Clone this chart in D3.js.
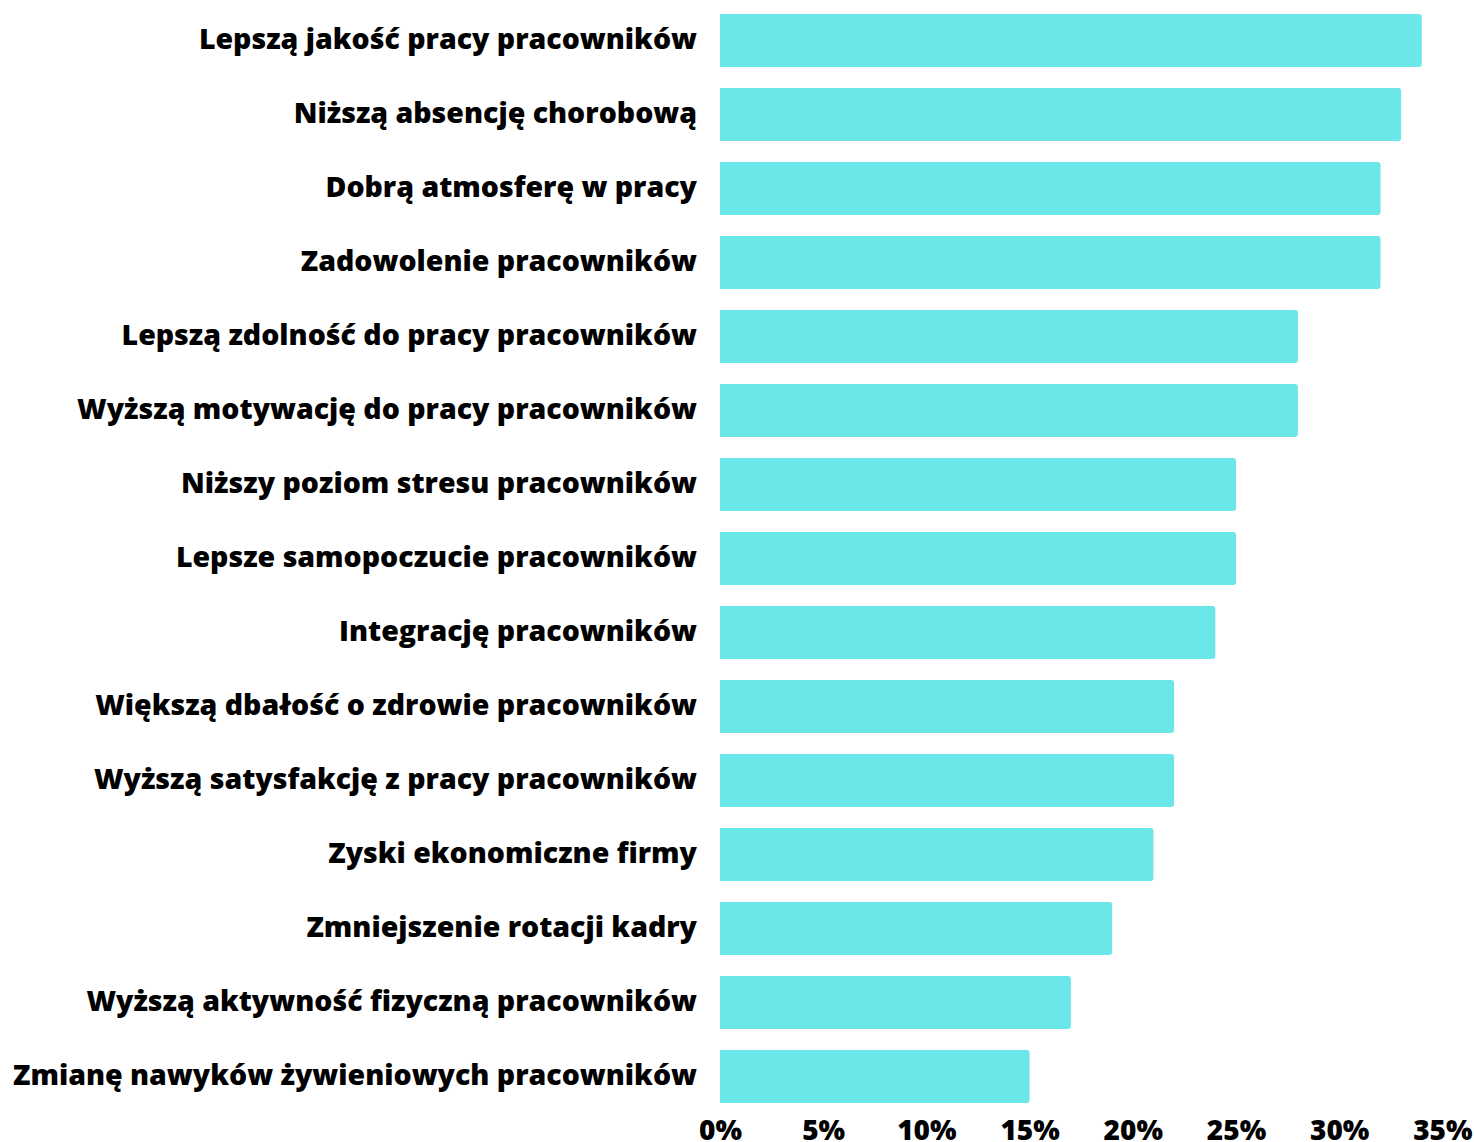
<!DOCTYPE html>
<html>
<head>
<meta charset="utf-8">
<script src="https://cdn.jsdelivr.net/npm/d3@7"></script>
<style>
  body { margin: 0; background: #fff; }
  svg { display: block; }
  text { font-family: "Open Sans", sans-serif; font-weight: 800; fill: #000; }
</style>
</head>
<body>
<svg width="1474" height="1142"></svg>
<script>
const categories = [
  "Lepszą jakość pracy pracowników",
  "Niższą absencję chorobową",
  "Dobrą atmosferę w pracy",
  "Zadowolenie pracowników",
  "Lepszą zdolność do pracy pracowników",
  "Wyższą motywację do pracy pracowników",
  "Niższy poziom stresu pracowników",
  "Lepsze samopoczucie pracowników",
  "Integrację pracowników",
  "Większą dbałość o zdrowie pracowników",
  "Wyższą satysfakcję z pracy pracowników",
  "Zyski ekonomiczne firmy",
  "Zmniejszenie rotacji kadry",
  "Wyższą aktywność fizyczną pracowników",
  "Zmianę nawyków żywieniowych pracowników"
];
const values = [34, 33, 32, 32, 28, 28, 25, 25, 24, 22, 22, 21, 19, 17, 15];
const ticks = [0, 5, 10, 15, 20, 25, 30, 35];

const svg = d3.select("svg");

const x = d3.scaleLinear().domain([0, 35]).range([720, 1442.4]);
const y = d3.scaleBand().domain(categories).range([3.5, 1113.5]).paddingInner(0.284).paddingOuter(0.142);

// bars with slightly rounded right end
const r = 3;
svg.selectAll(".bar")
  .data(categories)
  .join("path")
  .attr("class", "bar")
  .attr("fill", "#6be6e9")
  .attr("d", (d, i) => {
    const x0 = x(0), x1 = x(values[i]), y0 = y(d), h = y.bandwidth();
    return `M${x0},${y0}H${x1 - r}Q${x1},${y0} ${x1},${y0 + r}V${y0 + h - r}Q${x1},${y0 + h} ${x1 - r},${y0 + h}H${x0}Z`;
  });

// category labels
svg.selectAll(".label")
  .data(categories)
  .join("text")
  .attr("class", "label")
  .attr("x", 697)
  .attr("y", (d) => y(d) + y.bandwidth() / 2)
  .attr("dy", "0.3em")
  .attr("text-anchor", "end")
  .attr("font-size", 28.5)
  .text((d) => d);

// x axis labels
const axis = d3.axisBottom(x).tickValues(ticks).tickFormat((d) => d + "%").tickSize(0).tickPadding(0);
const gx = svg.append("g").attr("transform", "translate(0,1140)").call(axis);
gx.select(".domain").remove();
gx.selectAll("text")
  .attr("y", 0)
  .attr("dy", 0)
  .attr("font-size", 28)
  .attr("fill", "#000")
  .style("font-family", "'Open Sans', sans-serif")
  .style("font-weight", 800);
</script>
</body>
</html>
